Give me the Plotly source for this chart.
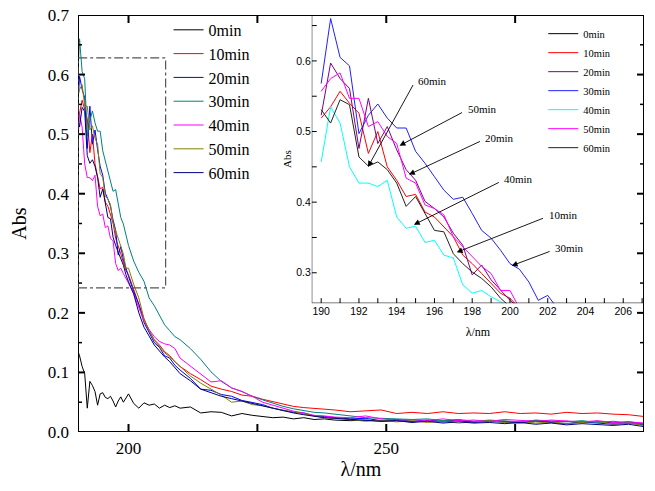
import plotly.graph_objects as go

# ---------------- data ----------------
series_names = ["0min", "10min", "20min", "30min", "40min", "50min", "60min"]

wl_head = [190.0, 190.5, 191.0, 191.5, 192.0, 192.5, 193.0, 193.5, 194.0, 194.5,
           195.0, 195.5, 196.0, 196.5, 197.0, 197.5, 198.0, 198.5, 199.0, 199.5, 200.0]

head_0 = [0.140, 0.128, 0.110, 0.098, 0.040, 0.085, 0.078, 0.068, 0.045, 0.064, 0.066,
          0.058, 0.056, 0.060, 0.052, 0.042, 0.052, 0.059, 0.050, 0.058, 0.064]
head_10 = [0.519, 0.535, 0.557, 0.540, 0.526, 0.469, 0.500, 0.450, 0.431, 0.408, 0.411,
           0.386, 0.379, 0.365, 0.351, 0.325, 0.313, 0.299, 0.285, 0.271, 0.264]
head_20 = [0.523, 0.597, 0.575, 0.561, 0.476, 0.547, 0.483, 0.507, 0.474, 0.446, 0.431,
           0.401, 0.391, 0.379, 0.356, 0.339, 0.297, 0.311, 0.290, 0.275, 0.261]
head_30 = [0.568, 0.660, 0.605, 0.593, 0.497, 0.523, 0.539, 0.519, 0.505, 0.505, 0.472,
           0.455, 0.436, 0.417, 0.404, 0.407, 0.384, 0.360, 0.349, 0.332, 0.313]
head_40 = [0.457, 0.535, 0.512, 0.450, 0.427, 0.427, 0.422, 0.431, 0.379, 0.363, 0.366,
           0.343, 0.346, 0.325, 0.321, 0.283, 0.271, 0.275, 0.266, 0.259, 0.250]
head_50 = [0.557, 0.575, 0.583, 0.547, 0.547, 0.507, 0.514, 0.493, 0.483, 0.434, 0.427,
           0.396, 0.391, 0.382, 0.351, 0.337, 0.323, 0.309, 0.299, 0.275, 0.275]
head_60 = [0.531, 0.512, 0.545, 0.538, 0.464, 0.451, 0.457, 0.446, 0.427, 0.394, 0.408,
           0.384, 0.360, 0.358, 0.327, 0.313, 0.301, 0.292, 0.280, 0.264, 0.252]

# inset continuation beyond 200 nm
wl_ext = [200.5, 201.0, 201.5, 202.0, 202.5, 203.0]
ext_10 = [0.250]
ext_20 = [0.250]
ext_30 = [0.305, 0.287, 0.261, 0.268, 0.250, 0.253]
ext_50 = [0.250]

wl_tail = [201, 202, 203, 204, 205, 206, 207, 208, 209, 210, 212, 214, 216, 218, 220,
           222, 224, 226, 228, 230, 232, 234, 236, 238, 240, 243, 246, 249, 252, 255,
           258, 261, 264, 267, 270, 273, 276, 279, 282, 285, 288, 291, 294, 297, 300]

tail_0 = [0.048, 0.040, 0.049, 0.045, 0.047, 0.040, 0.045, 0.041, 0.044, 0.040, 0.042,
          0.032, 0.034, 0.033, 0.027, 0.031, 0.028, 0.026, 0.024, 0.025, 0.022, 0.024,
          0.021, 0.022, 0.020, 0.019, 0.020, 0.018, 0.019, 0.017, 0.019, 0.018, 0.020,
          0.017, 0.019, 0.018, 0.016, 0.019, 0.017, 0.018, 0.016, 0.018, 0.015, 0.017, 0.014]
tail_10 = [0.240, 0.216, 0.190, 0.170, 0.155, 0.146, 0.135, 0.128, 0.118, 0.110, 0.098,
           0.088, 0.077, 0.072, 0.068, 0.062, 0.060, 0.055, 0.051, 0.047, 0.043, 0.041,
           0.040, 0.038, 0.037, 0.034, 0.036, 0.037, 0.031, 0.033, 0.031, 0.034, 0.031,
           0.032, 0.031, 0.034, 0.031, 0.032, 0.030, 0.033, 0.031, 0.032, 0.030, 0.029, 0.026]
tail_20 = [0.236, 0.214, 0.184, 0.168, 0.150, 0.142, 0.128, 0.124, 0.112, 0.104, 0.090,
           0.072, 0.070, 0.063, 0.060, 0.053, 0.050, 0.046, 0.040, 0.037, 0.033, 0.032,
           0.027, 0.026, 0.024, 0.022, 0.023, 0.019, 0.021, 0.018, 0.020, 0.017, 0.019,
           0.016, 0.018, 0.017, 0.015, 0.018, 0.016, 0.014, 0.017, 0.015, 0.013, 0.015, 0.012]
tail_30 = [0.287, 0.268, 0.253, 0.225, 0.212, 0.196, 0.180, 0.170, 0.160, 0.155, 0.140,
           0.122, 0.101, 0.085, 0.074, 0.068, 0.060, 0.054, 0.048, 0.043, 0.039, 0.036,
           0.033, 0.032, 0.030, 0.026, 0.024, 0.023, 0.022, 0.021, 0.022, 0.019, 0.021,
           0.018, 0.020, 0.019, 0.017, 0.020, 0.018, 0.017, 0.019, 0.016, 0.018, 0.015, 0.014]
tail_40 = [0.232, 0.208, 0.186, 0.172, 0.160, 0.152, 0.148, 0.146, 0.140, 0.124, 0.111,
           0.098, 0.084, 0.086, 0.074, 0.068, 0.060, 0.050, 0.045, 0.040, 0.035, 0.032,
           0.028, 0.027, 0.025, 0.024, 0.027, 0.022, 0.020, 0.021, 0.019, 0.022, 0.019,
           0.020, 0.018, 0.021, 0.019, 0.018, 0.020, 0.018, 0.017, 0.019, 0.016, 0.017, 0.015]
tail_50 = [0.248, 0.225, 0.190, 0.170, 0.154, 0.143, 0.133, 0.126, 0.118, 0.110, 0.094,
           0.082, 0.072, 0.062, 0.050, 0.052, 0.046, 0.044, 0.040, 0.036, 0.034, 0.030,
           0.027, 0.024, 0.023, 0.021, 0.018, 0.020, 0.017, 0.019, 0.016, 0.018, 0.015,
           0.017, 0.019, 0.016, 0.018, 0.015, 0.017, 0.014, 0.016, 0.018, 0.013, 0.015, 0.011]
tail_60 = [0.232, 0.200, 0.176, 0.160, 0.146, 0.136, 0.126, 0.118, 0.108, 0.098, 0.086,
           0.072, 0.066, 0.060, 0.056, 0.052, 0.048, 0.043, 0.039, 0.035, 0.032, 0.029,
           0.026, 0.024, 0.023, 0.021, 0.020, 0.018, 0.019, 0.016, 0.018, 0.015, 0.017,
           0.015, 0.016, 0.014, 0.016, 0.013, 0.015, 0.012, 0.014, 0.012, 0.011, 0.013, 0.009]

# inset arrow labels
arrow_labels = ["60min", "50min", "20min", "40min", "10min", "30min"]
arrow_head_wl = [192.48, 194.15, 194.65, 194.91, 197.18, 200.09]
arrow_head_abs = [0.450, 0.480, 0.439, 0.368, 0.329, 0.310]
arrow_tail_wl = [194.91, 197.54, 198.49, 199.49, 201.83, 202.18]
arrow_tail_abs = [0.568, 0.528, 0.487, 0.429, 0.378, 0.331]

# tick values
main_x_ticks = [200, 225, 250, 275, 300]
main_x_labels = ["200", "", "250", "", "300"]
main_y_major = [0.0, 0.1, 0.2, 0.3, 0.4, 0.5, 0.6, 0.7]
main_y_minor = [0.05, 0.15, 0.25, 0.35, 0.45, 0.55, 0.65]
inset_x_ticks = [190, 191, 192, 193, 194, 195, 196, 197, 198, 199, 200, 201, 202, 203, 204, 205, 206, 207]
inset_x_labels = ["190", "", "192", "", "194", "", "196", "", "198", "", "200", "", "202", "", "204", "", "206", ""]
inset_y_ticks = [0.3, 0.35, 0.4, 0.45, 0.5, 0.55, 0.6, 0.65]
inset_y_labels = ["0.3", "", "0.4", "", "0.5", "", "0.6", ""]

# ---------------- layout constants ----------------
W, H = 655, 491
ML, MR, MT, MB = 78, 11, 15, 59
MAIN_X = [190.2, 300.0]
MAIN_Y = [0.0, 0.7]
INSET_X = [189.5, 207.1]
INSET_Y = [0.257, 0.665]
INSET_DX = [0.413, 1.0]
INSET_DY = [0.309, 1.0]

main_w = W - ML - MR
main_h = H - MT - MB
inset_w = main_w * (INSET_DX[1] - INSET_DX[0])
inset_h = main_h * (INSET_DY[1] - INSET_DY[0])
mx_px = (MAIN_X[1] - MAIN_X[0]) / main_w
my_px = (MAIN_Y[1] - MAIN_Y[0]) / main_h
ix_px = (INSET_X[1] - INSET_X[0]) / inset_w
iy_px = (INSET_Y[1] - INSET_Y[0]) / inset_h

# ---------------- styles ----------------
main_colors = ["#000000", "#ff0000", "#0000ff", "#008080", "#ff00ff", "#808000", "#000080"]
inset_colors = ["#000000", "#ff0000", "#800080", "#2020ff", "#00ffff", "#ff00ff", "#222222"]
SERIF = "Liberation Serif"
SANS = "Liberation Sans"

heads = [head_0, head_10, head_20, head_30, head_40, head_50, head_60]
tails = [tail_0, tail_10, tail_20, tail_30, tail_40, tail_50, tail_60]
exts = [[], ext_10, ext_20, ext_30, [], ext_50, []]

fig = go.Figure()

for name, col, h, t in zip(series_names, main_colors, heads, tails):
    fig.add_trace(go.Scatter(
        x=wl_head + wl_tail, y=h + t, mode="lines", name=name,
        line=dict(color=col, width=1), xaxis="x", yaxis="y", legend="legend"))

for name, col, h, e in zip(series_names, inset_colors, heads, exts):
    fig.add_trace(go.Scatter(
        x=wl_head + wl_ext[:len(e)], y=h + e, mode="lines", name=name,
        line=dict(color=col, width=1), xaxis="x2", yaxis="y2", legend="legend2"))


# ---- axis frames and tick marks, drawn as line traces on the axes' scales ----
def frame_trace(xs, ys, width, xa, ya):
    return go.Scatter(x=xs, y=ys, mode="lines", showlegend=False, hoverinfo="skip",
                      cliponaxis=False, line=dict(color="#000000", width=width),
                      xaxis=xa, yaxis=ya)


def seg(points):
    xs, ys = [], []
    for (x0, y0, x1, y1) in points:
        xs += [x0, x1, None]
        ys += [y0, y1, None]
    return xs, ys


# main frame
fig.add_trace(frame_trace([MAIN_X[0], MAIN_X[1], MAIN_X[1], MAIN_X[0], MAIN_X[0]],
                          [MAIN_Y[0], MAIN_Y[0], MAIN_Y[1], MAIN_Y[1], MAIN_Y[0]], 2, "x", "y"))
# main major ticks (inside, mirrored)
pts = []
for v in main_x_ticks:
    pts.append((v, MAIN_Y[0], v, MAIN_Y[0] + 8 * my_px))
    pts.append((v, MAIN_Y[1], v, MAIN_Y[1] - 8 * my_px))
for v in main_y_major:
    pts.append((MAIN_X[0], v, MAIN_X[0] + 7 * mx_px, v))
    pts.append((MAIN_X[1], v, MAIN_X[1] - 7 * mx_px, v))
xs, ys = seg(pts)
fig.add_trace(frame_trace(xs, ys, 2, "x", "y"))
# main minor ticks
pts = []
for v in main_y_minor:
    pts.append((MAIN_X[0], v, MAIN_X[0] + 4 * mx_px, v))
    pts.append((MAIN_X[1], v, MAIN_X[1] - 4 * mx_px, v))
xs, ys = seg(pts)
fig.add_trace(frame_trace(xs, ys, 1.5, "x", "y"))

# inset left + bottom axis lines
fig.add_trace(frame_trace([INSET_X[1], INSET_X[0], INSET_X[0]],
                          [INSET_Y[0], INSET_Y[0], INSET_Y[1]], 1, "x2", "y2"))
# inset ticks
pts = []
for v in inset_x_ticks:
    pts.append((v, INSET_Y[0], v, INSET_Y[0] + 5 * iy_px))
for v in inset_y_ticks:
    pts.append((INSET_X[0], v, INSET_X[0] + 5 * ix_px, v))
xs, ys = seg(pts)
fig.add_trace(frame_trace(xs, ys, 1, "x2", "y2"))

annotations = []
for lab, hx, hy, tx, ty in zip(arrow_labels, arrow_head_wl, arrow_head_abs,
                               arrow_tail_wl, arrow_tail_abs):
    annotations.append(dict(
        x=hx, y=hy, ax=tx, ay=ty, xref="x2", yref="y2", axref="x2", ayref="y2",
        text="", showarrow=True, arrowhead=2, arrowsize=1.3, arrowwidth=0.9,
        arrowcolor="black"))
    annotations.append(dict(
        x=tx, y=ty, xref="x2", yref="y2", text=lab, showarrow=False,
        xanchor="left", yanchor="middle", xshift=2, yshift=3,
        font=dict(family=SERIF, size=11, color="black")))

shapes = [dict(type="rect", xref="x", yref="y", x0=190.2, x1=207.2, y0=0.242, y1=0.628,
               fillcolor="rgba(0,0,0,0)",
               line=dict(color="#555555", width=1.2, dash="dashdot"), layer="above")]

common = dict(showgrid=False, zeroline=False, automargin=False, showline=False,
              ticks="", tickmode="array", fixedrange=True)

fig.update_layout(
    template="none",
    width=W, height=H,
    margin=dict(l=ML, r=MR, t=MT, b=MB, autoexpand=False),
    paper_bgcolor="white", plot_bgcolor="rgba(0,0,0,0)",
    font=dict(family=SERIF, color="black"),
    showlegend=True,
    xaxis=dict(
        domain=[0, 1], range=MAIN_X,
        tickvals=main_x_ticks, ticktext=main_x_labels,
        ticklabelstandoff=4,
        tickfont=dict(family=SERIF, size=17, color="black"),
        title=dict(text="λ/nm", font=dict(family=SERIF, size=20, color="black"), standoff=0),
        **common,
    ),
    yaxis=dict(
        domain=[0, 1], range=MAIN_Y,
        tickvals=main_y_major, ticktext=["%.1f" % v for v in main_y_major],
        ticklabelstandoff=8,
        tickfont=dict(family=SERIF, size=17, color="black"),
        title=dict(text="Abs", font=dict(family=SERIF, size=20, color="black"), standoff=15),
        **common,
    ),
    xaxis2=dict(
        domain=INSET_DX, anchor="y2", range=INSET_X,
        tickvals=inset_x_ticks, ticktext=inset_x_labels,
        tickfont=dict(family=SANS, size=10.5, color="black"),
        title=dict(text="λ/nm", font=dict(family=SERIF, size=12, color="black"), standoff=11),
        **common,
    ),
    yaxis2=dict(
        domain=INSET_DY, anchor="x2", range=INSET_Y,
        tickvals=inset_y_ticks, ticktext=inset_y_labels,
        tickfont=dict(family=SANS, size=10.5, color="black"),
        title=dict(text="Abs", font=dict(family=SERIF, size=11, color="black"), standoff=2),
        **common,
    ),
    legend=dict(
        x=0.16, y=1.005, xanchor="left", yanchor="top",
        bgcolor="rgba(0,0,0,0)", borderwidth=0,
        font=dict(family=SERIF, size=16, color="black"),
        tracegroupgap=0,
    ),
    legend2=dict(
        x=0.822, y=0.99, xanchor="left", yanchor="top",
        bgcolor="rgba(0,0,0,0)", borderwidth=0,
        font=dict(family=SERIF, size=10.5, color="black"),
        tracegroupgap=0,
    ),
    shapes=shapes,
    annotations=annotations,
)

post = "document.body.style.margin='0px';"

fig.write_html("out.html", post_script=post, config={"displayModeBar": False})
